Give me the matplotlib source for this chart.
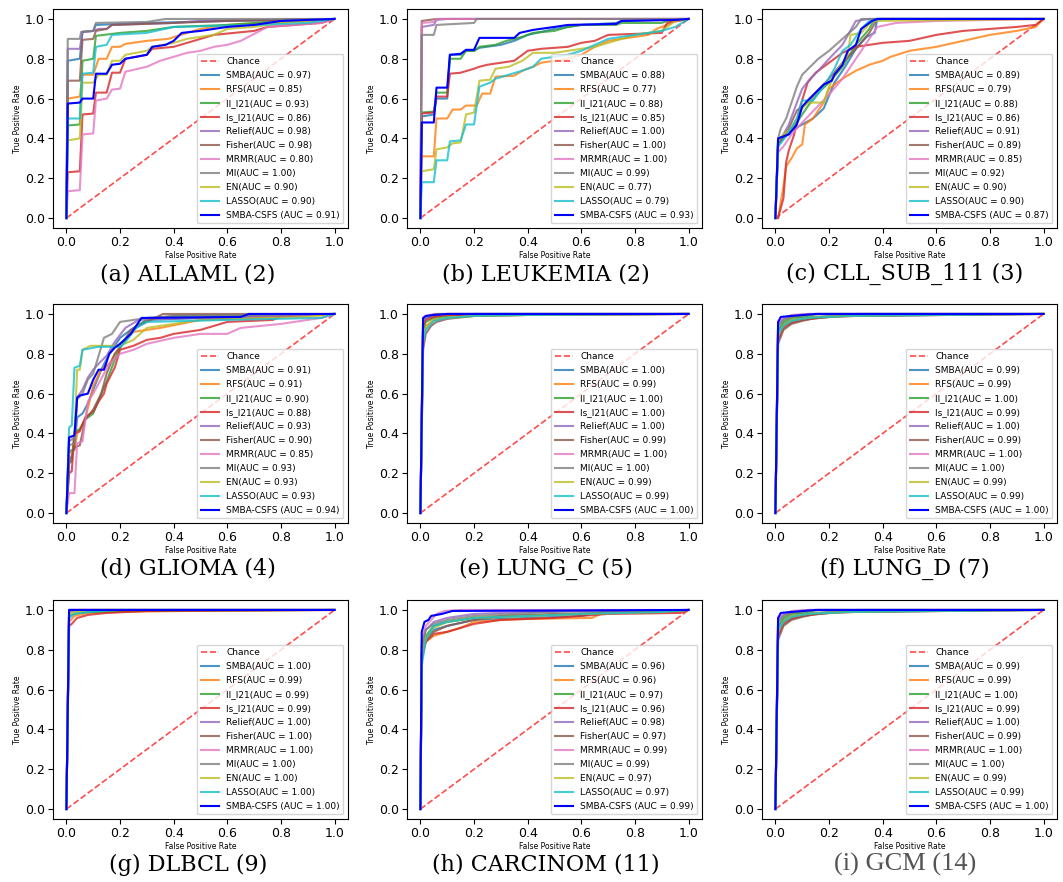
import matplotlib
matplotlib.use("Agg")
import matplotlib.pyplot as plt

# Méthodes comparées (ordre de la légende)
METHODS = ["SMBA", "RFS", "ll_l21", "ls_l21", "Relief", "Fisher",
           "MRMR", "MI", "EN", "LASSO", "SMBA-CSFS"]

# Points des courbes ROC : une liste de (fpr, tpr) par méthode
ALLAML_AUC = [0.97, 0.85, 0.93, 0.86, 0.98, 0.98, 0.80, 1.00, 0.90, 0.90, 0.91]
ALLAML_ROC = [
    [(0, 0), (0.005, 0.79), (0.05, 0.80), (0.06, 0.935), (0.1, 0.94), (0.11, 0.97), (0.3, 0.98), (0.6, 0.99), (1, 1)],
    [(0, 0), (0.005, 0.60), (0.05, 0.61), (0.06, 0.72), (0.1, 0.72), (0.12, 0.80), (0.15, 0.80), (0.17, 0.86),
     (0.2, 0.86), (0.22, 0.875), (0.3, 0.89), (0.38, 0.90), (0.45, 0.93), (0.5, 0.95), (0.6, 0.97), (0.75, 0.98),
     (0.9, 0.99), (1, 1)],
    [(0, 0), (0.005, 0.465), (0.05, 0.47), (0.06, 0.79), (0.1, 0.80), (0.11, 0.915), (0.2, 0.93), (0.3, 0.94),
     (0.4, 0.96), (0.6, 0.97), (0.8, 0.99), (1, 1)],
    [(0, 0), (0.005, 0.23), (0.05, 0.235), (0.06, 0.52), (0.1, 0.525), (0.11, 0.63), (0.15, 0.63), (0.17, 0.73),
     (0.2, 0.73), (0.22, 0.80), (0.3, 0.82), (0.32, 0.85), (0.4, 0.86), (0.45, 0.88), (0.5, 0.90), (0.55, 0.92),
     (0.7, 0.94), (0.75, 0.96), (0.85, 0.97), (0.95, 0.98), (1, 1)],
    [(0, 0), (0.005, 0.85), (0.05, 0.85), (0.06, 0.935), (0.1, 0.94), (0.12, 0.95), (0.15, 0.95), (0.17, 0.97),
     (0.4, 0.98), (0.5, 0.99), (1, 1)],
    [(0, 0), (0.005, 0.69), (0.05, 0.69), (0.06, 0.895), (0.1, 0.90), (0.11, 0.94), (0.15, 0.95), (0.17, 0.97),
     (0.4, 0.98), (0.6, 0.99), (1, 1)],
    [(0, 0), (0.005, 0.135), (0.05, 0.14), (0.06, 0.42), (0.1, 0.425), (0.11, 0.59), (0.15, 0.60), (0.17, 0.645),
     (0.2, 0.65), (0.22, 0.735), (0.3, 0.76), (0.35, 0.79), (0.4, 0.81), (0.45, 0.83), (0.5, 0.84), (0.55, 0.86),
     (0.6, 0.87), (0.65, 0.89), (0.75, 0.96), (0.85, 0.97), (0.95, 0.98), (1, 1)],
    [(0, 0), (0.005, 0.90), (0.05, 0.90), (0.055, 0.935), (0.1, 0.94), (0.11, 0.98), (0.3, 0.985), (0.37, 1.0), (1, 1)],
    [(0, 0), (0.005, 0.39), (0.05, 0.40), (0.06, 0.68), (0.1, 0.68), (0.12, 0.72), (0.15, 0.72), (0.17, 0.79),
     (0.2, 0.79), (0.22, 0.82), (0.3, 0.84), (0.32, 0.86), (0.4, 0.88), (0.45, 0.90), (0.55, 0.92), (0.6, 0.95),
     (0.7, 0.96), (0.8, 0.98), (0.9, 0.99), (1, 1)],
    [(0, 0), (0.005, 0.50), (0.05, 0.50), (0.06, 0.725), (0.1, 0.73), (0.11, 0.86), (0.15, 0.87), (0.17, 0.92),
     (0.3, 0.93), (0.4, 0.96), (0.7, 0.97), (0.9, 0.98), (1, 1)],
    [(0, 0), (0.005, 0.575), (0.05, 0.58), (0.06, 0.60), (0.1, 0.60), (0.11, 0.725), (0.15, 0.725), (0.17, 0.77),
     (0.2, 0.775), (0.22, 0.80), (0.3, 0.82), (0.32, 0.86), (0.37, 0.87), (0.4, 0.89), (0.43, 0.93), (0.5, 0.94),
     (0.6, 0.96), (0.7, 0.97), (0.75, 0.98), (0.8, 0.99), (1, 1)],
]

LEUKEMIA_AUC = [0.88, 0.77, 0.88, 0.85, 1.00, 1.00, 1.00, 0.99, 0.77, 0.79, 0.93]
LEUKEMIA_ROC = [
    [(0, 0), (0.005, 0.51), (0.05, 0.52), (0.06, 0.60), (0.1, 0.60), (0.11, 0.82), (0.15, 0.82), (0.17, 0.84),
     (0.2, 0.84), (0.22, 0.855), (0.3, 0.87), (0.35, 0.89), (0.4, 0.92), (0.5, 0.95), (0.6, 0.97), (0.73, 0.98),
     (0.75, 0.99), (1, 1)],
    [(0, 0), (0.005, 0.31), (0.05, 0.31), (0.06, 0.50), (0.1, 0.50), (0.12, 0.545), (0.15, 0.545), (0.17, 0.565),
     (0.21, 0.565), (0.23, 0.625), (0.26, 0.625), (0.28, 0.71), (0.35, 0.715), (0.38, 0.74), (0.42, 0.76),
     (0.45, 0.78), (0.55, 0.80), (0.6, 0.82), (0.65, 0.86), (0.7, 0.89), (0.8, 0.91), (0.85, 0.92), (0.88, 0.95),
     (0.92, 0.97), (0.95, 0.99), (1, 1)],
    [(0, 0), (0.005, 0.53), (0.05, 0.535), (0.06, 0.63), (0.1, 0.63), (0.11, 0.80), (0.15, 0.80), (0.17, 0.84),
     (0.2, 0.84), (0.22, 0.86), (0.28, 0.87), (0.32, 0.89), (0.38, 0.91), (0.42, 0.93), (0.5, 0.94), (0.55, 0.96),
     (0.6, 0.97), (0.73, 0.97), (0.75, 0.98), (0.9, 0.98), (0.92, 0.99), (1, 1)],
    [(0, 0), (0.005, 0.525), (0.05, 0.53), (0.06, 0.61), (0.1, 0.61), (0.11, 0.725), (0.15, 0.73), (0.2, 0.75),
     (0.22, 0.76), (0.25, 0.77), (0.3, 0.78), (0.35, 0.79), (0.4, 0.84), (0.45, 0.85), (0.55, 0.86), (0.6, 0.88),
     (0.65, 0.89), (0.7, 0.92), (0.9, 0.93), (0.92, 0.98), (1, 1)],
    [(0, 0), (0.005, 0.96), (0.05, 0.97), (0.06, 0.995), (0.1, 1.0), (1, 1)],
    [(0, 0), (0.005, 0.99), (0.06, 1.0), (1, 1)],
    [(0, 0), (0.005, 0.98), (0.05, 0.985), (0.06, 1.0), (1, 1)],
    [(0, 0), (0.005, 0.92), (0.05, 0.92), (0.06, 0.97), (0.2, 0.98), (0.21, 1.0), (1, 1)],
    [(0, 0), (0.005, 0.235), (0.05, 0.245), (0.06, 0.345), (0.1, 0.355), (0.12, 0.375), (0.15, 0.38), (0.17, 0.52),
     (0.2, 0.53), (0.22, 0.69), (0.26, 0.695), (0.28, 0.75), (0.33, 0.76), (0.38, 0.79), (0.42, 0.83), (0.5, 0.83),
     (0.55, 0.84), (0.65, 0.86), (0.7, 0.88), (0.8, 0.92), (0.9, 0.94), (0.95, 0.99), (1, 1)],
    [(0, 0), (0.005, 0.18), (0.05, 0.18), (0.06, 0.29), (0.1, 0.29), (0.11, 0.385), (0.15, 0.39), (0.17, 0.47),
     (0.2, 0.47), (0.22, 0.66), (0.26, 0.68), (0.28, 0.70), (0.33, 0.72), (0.38, 0.74), (0.42, 0.76), (0.45, 0.80),
     (0.55, 0.82), (0.6, 0.84), (0.7, 0.90), (0.75, 0.91), (0.85, 0.93), (0.9, 0.94), (0.95, 0.96), (1, 1)],
    [(0, 0), (0.005, 0.48), (0.05, 0.48), (0.06, 0.655), (0.1, 0.655), (0.11, 0.82), (0.15, 0.825), (0.17, 0.845),
     (0.2, 0.845), (0.22, 0.905), (0.35, 0.905), (0.37, 0.93), (0.42, 0.945), (0.5, 0.96), (0.55, 0.97),
     (0.73, 0.975), (0.75, 0.99), (0.95, 0.995), (1, 1)],
]

CLL_AUC = [0.89, 0.79, 0.88, 0.86, 0.91, 0.89, 0.85, 0.92, 0.90, 0.90, 0.87]
CLL_ROC = [
    [(0, 0), (0.01, 0.37), (0.03, 0.40), (0.06, 0.44), (0.1, 0.47), (0.14, 0.50), (0.18, 0.55), (0.22, 0.68),
     (0.26, 0.76), (0.3, 0.85), (0.34, 0.91), (0.37, 0.93), (0.38, 1.0), (1, 1)],
    [(0, 0), (0.01, 0.0), (0.03, 0.16), (0.04, 0.26), (0.06, 0.30), (0.08, 0.35), (0.1, 0.37), (0.11, 0.47),
     (0.14, 0.50), (0.18, 0.58), (0.2, 0.65), (0.25, 0.70), (0.3, 0.74), (0.35, 0.77), (0.4, 0.79), (0.43, 0.81),
     (0.5, 0.84), (0.6, 0.86), (0.7, 0.89), (0.8, 0.92), (0.9, 0.94), (0.97, 0.96), (1, 1)],
    [(0, 0), (0.01, 0.37), (0.04, 0.42), (0.08, 0.48), (0.12, 0.56), (0.16, 0.63), (0.2, 0.68), (0.25, 0.76),
     (0.3, 0.87), (0.35, 0.95), (0.37, 1.0), (1, 1)],
    [(0, 0), (0.01, 0.0), (0.03, 0.10), (0.04, 0.28), (0.05, 0.34), (0.07, 0.42), (0.09, 0.55), (0.12, 0.68),
     (0.15, 0.73), (0.2, 0.78), (0.25, 0.83), (0.3, 0.86), (0.35, 0.87), (0.4, 0.88), (0.5, 0.89), (0.6, 0.92),
     (0.7, 0.94), (0.8, 0.95), (0.9, 0.96), (0.97, 0.97), (1, 1)],
    [(0, 0), (0.01, 0.38), (0.03, 0.42), (0.05, 0.47), (0.08, 0.58), (0.1, 0.65), (0.13, 0.70), (0.16, 0.74),
     (0.2, 0.80), (0.25, 0.87), (0.3, 0.99), (0.35, 1.0), (1, 1)],
    [(0, 0), (0.01, 0.36), (0.02, 0.39), (0.05, 0.45), (0.08, 0.54), (0.12, 0.58), (0.15, 0.63), (0.2, 0.70),
     (0.25, 0.78), (0.3, 0.85), (0.35, 0.93), (0.38, 1.0), (1, 1)],
    [(0, 0), (0.01, 0.33), (0.03, 0.36), (0.06, 0.42), (0.1, 0.48), (0.15, 0.55), (0.2, 0.62), (0.25, 0.70),
     (0.3, 0.80), (0.35, 0.90), (0.38, 0.96), (0.45, 0.98), (0.6, 0.99), (1, 1)],
    [(0, 0), (0.01, 0.40), (0.02, 0.45), (0.04, 0.50), (0.06, 0.58), (0.08, 0.66), (0.1, 0.72), (0.13, 0.76),
     (0.16, 0.80), (0.2, 0.84), (0.25, 0.90), (0.3, 0.96), (0.32, 1.0), (1, 1)],
    [(0, 0), (0.01, 0.39), (0.03, 0.42), (0.06, 0.45), (0.1, 0.55), (0.12, 0.58), (0.18, 0.58), (0.2, 0.66),
     (0.23, 0.74), (0.27, 0.82), (0.28, 0.92), (0.32, 0.93), (0.36, 0.99), (1, 1)],
    [(0, 0), (0.01, 0.36), (0.04, 0.41), (0.08, 0.50), (0.1, 0.59), (0.14, 0.59), (0.18, 0.66), (0.22, 0.75),
     (0.25, 0.84), (0.28, 0.87), (0.32, 0.95), (0.35, 0.99), (0.4, 1.0), (1, 1)],
    [(0, 0), (0.01, 0.40), (0.03, 0.41), (0.05, 0.42), (0.08, 0.47), (0.1, 0.56), (0.12, 0.59), (0.15, 0.63),
     (0.18, 0.67), (0.21, 0.69), (0.22, 0.72), (0.25, 0.77), (0.27, 0.84), (0.3, 0.87), (0.32, 0.95), (0.36, 0.99),
     (0.38, 1.0), (1, 1)],
]

GLIOMA_AUC = [0.91, 0.91, 0.90, 0.88, 0.93, 0.90, 0.85, 0.93, 0.93, 0.93, 0.94]
GLIOMA_ROC = [
    [(0, 0), (0.01, 0.31), (0.03, 0.32), (0.04, 0.48), (0.06, 0.50), (0.08, 0.55), (0.1, 0.62), (0.13, 0.72),
     (0.16, 0.80), (0.2, 0.88), (0.25, 0.93), (0.3, 0.97), (0.5, 0.98), (0.8, 0.99), (1, 1)],
    [(0, 0), (0.01, 0.30), (0.03, 0.32), (0.04, 0.40), (0.07, 0.47), (0.1, 0.64), (0.13, 0.72), (0.16, 0.75),
     (0.2, 0.84), (0.25, 0.91), (0.35, 0.93), (0.5, 0.97), (0.7, 0.98), (1, 1)],
    [(0, 0), (0.01, 0.25), (0.02, 0.26), (0.03, 0.41), (0.05, 0.42), (0.07, 0.47), (0.1, 0.50), (0.13, 0.60),
     (0.15, 0.66), (0.18, 0.77), (0.2, 0.83), (0.25, 0.92), (0.3, 0.97), (0.4, 0.99), (1, 1)],
    [(0, 0), (0.01, 0.20), (0.02, 0.21), (0.03, 0.40), (0.05, 0.41), (0.07, 0.48), (0.1, 0.51), (0.12, 0.56),
     (0.14, 0.60), (0.15, 0.65), (0.18, 0.73), (0.2, 0.82), (0.25, 0.84), (0.3, 0.87), (0.35, 0.88), (0.4, 0.90),
     (0.5, 0.92), (0.6, 0.96), (0.77, 0.97), (0.8, 0.99), (1, 1)],
    [(0, 0), (0.01, 0.36), (0.03, 0.38), (0.04, 0.58), (0.06, 0.62), (0.08, 0.68), (0.1, 0.72), (0.12, 0.75),
     (0.15, 0.79), (0.18, 0.86), (0.22, 0.93), (0.27, 0.97), (0.5, 0.98), (0.8, 0.99), (1, 1)],
    [(0, 0), (0.01, 0.25), (0.03, 0.33), (0.05, 0.34), (0.07, 0.47), (0.1, 0.52), (0.13, 0.60), (0.15, 0.70),
     (0.18, 0.80), (0.2, 0.83), (0.24, 0.92), (0.3, 0.96), (0.36, 1.0), (1, 1)],
    [(0, 0), (0.01, 0.10), (0.03, 0.10), (0.04, 0.35), (0.06, 0.36), (0.08, 0.56), (0.1, 0.60), (0.14, 0.70),
     (0.16, 0.75), (0.2, 0.80), (0.25, 0.82), (0.3, 0.85), (0.4, 0.88), (0.5, 0.90), (0.6, 0.90), (0.65, 0.93),
     (0.8, 0.95), (0.95, 0.98), (1, 1)],
    [(0, 0), (0.01, 0.34), (0.03, 0.35), (0.04, 0.57), (0.06, 0.60), (0.08, 0.67), (0.1, 0.70), (0.14, 0.88),
     (0.17, 0.90), (0.2, 0.96), (0.25, 0.97), (0.3, 0.98), (0.4, 0.99), (1, 1)],
    [(0, 0), (0.01, 0.38), (0.03, 0.39), (0.04, 0.72), (0.05, 0.72), (0.06, 0.82), (0.09, 0.84), (0.2, 0.84),
     (0.25, 0.87), (0.3, 0.93), (0.4, 0.95), (0.5, 0.97), (0.9, 0.985), (1, 1)],
    [(0, 0), (0.01, 0.43), (0.02, 0.44), (0.03, 0.73), (0.05, 0.74), (0.06, 0.82), (0.1, 0.83), (0.12, 0.835),
     (0.2, 0.835), (0.22, 0.86), (0.26, 0.93), (0.3, 0.96), (0.6, 0.97), (0.95, 0.98), (1, 1)],
    [(0, 0), (0.01, 0.38), (0.03, 0.39), (0.04, 0.58), (0.05, 0.59), (0.08, 0.60), (0.1, 0.67), (0.12, 0.72),
     (0.14, 0.72), (0.16, 0.80), (0.18, 0.83), (0.2, 0.85), (0.24, 0.90), (0.28, 0.98), (0.65, 0.985),
     (0.68, 1.0), (1, 1)],
]

LUNG_C_AUC = [1.00, 0.99, 1.00, 1.00, 1.00, 0.99, 1.00, 1.00, 0.99, 0.99, 1.00]
LUNG_C_ROC = [
    [(0, 0), (0.01, 0.95), (0.02, 0.98), (0.05, 0.99), (0.1, 1.0), (1, 1)],
    [(0, 0), (0.01, 0.88), (0.02, 0.94), (0.05, 0.97), (0.1, 0.98), (0.2, 0.99), (0.4, 0.995), (1, 1)],
    [(0, 0), (0.01, 0.92), (0.02, 0.96), (0.05, 0.98), (0.1, 0.99), (0.2, 1.0), (1, 1)],
    [(0, 0), (0.01, 0.94), (0.02, 0.97), (0.05, 0.985), (0.1, 0.995), (1, 1)],
    [(0, 0), (0.01, 0.96), (0.02, 0.985), (0.05, 0.995), (0.1, 1.0), (1, 1)],
    [(0, 0), (0.01, 0.82), (0.02, 0.90), (0.04, 0.94), (0.06, 0.96), (0.1, 0.975), (0.2, 0.99), (0.4, 0.995), (1, 1)],
    [(0, 0), (0.01, 0.97), (0.02, 0.99), (0.05, 1.0), (1, 1)],
    [(0, 0), (0.01, 0.97), (0.02, 0.985), (0.06, 1.0), (1, 1)],
    [(0, 0), (0.01, 0.87), (0.02, 0.93), (0.05, 0.97), (0.1, 0.98), (0.2, 0.99), (0.4, 0.995), (1, 1)],
    [(0, 0), (0.01, 0.86), (0.02, 0.92), (0.05, 0.965), (0.1, 0.98), (0.2, 0.99), (0.4, 0.995), (1, 1)],
    [(0, 0), (0.01, 0.98), (0.02, 0.99), (0.05, 0.995), (0.1, 1.0), (1, 1)],
]

LUNG_D_AUC = [0.99, 0.99, 1.00, 0.99, 1.00, 0.99, 1.00, 1.00, 0.99, 0.99, 1.00]
LUNG_D_ROC = [
    [(0, 0), (0.01, 0.90), (0.03, 0.95), (0.06, 0.97), (0.1, 0.98), (0.2, 0.99), (0.3, 1.0), (1, 1)],
    [(0, 0), (0.01, 0.88), (0.03, 0.94), (0.06, 0.96), (0.12, 0.975), (0.25, 0.99), (0.48, 0.995), (1, 1)],
    [(0, 0), (0.01, 0.92), (0.03, 0.96), (0.06, 0.98), (0.12, 0.99), (0.16, 1.0), (1, 1)],
    [(0, 0), (0.01, 0.87), (0.03, 0.93), (0.06, 0.955), (0.1, 0.97), (0.2, 0.985), (0.3, 0.99), (1, 1)],
    [(0, 0), (0.01, 0.95), (0.03, 0.975), (0.06, 0.99), (0.12, 1.0), (1, 1)],
    [(0, 0), (0.01, 0.85), (0.03, 0.92), (0.06, 0.95), (0.1, 0.965), (0.15, 0.98), (0.25, 0.99), (1, 1)],
    [(0, 0), (0.01, 0.96), (0.03, 0.98), (0.06, 0.995), (0.12, 1.0), (1, 1)],
    [(0, 0), (0.01, 0.94), (0.03, 0.97), (0.06, 0.985), (0.15, 1.0), (1, 1)],
    [(0, 0), (0.01, 0.89), (0.03, 0.945), (0.06, 0.97), (0.15, 0.985), (0.3, 0.99), (0.48, 0.995), (1, 1)],
    [(0, 0), (0.01, 0.90), (0.03, 0.94), (0.06, 0.965), (0.12, 0.98), (0.28, 0.99), (1, 1)],
    [(0, 0), (0.01, 0.96), (0.02, 0.985), (0.06, 0.99), (0.15, 1.0), (1, 1)],
]

DLBCL_AUC = [1.00, 0.99, 0.99, 0.99, 1.00, 1.00, 1.00, 1.00, 1.00, 1.00, 1.00]
DLBCL_ROC = [
    [(0, 0), (0.01, 1.0), (1, 1)],
    [(0, 0), (0.01, 0.94), (0.03, 0.97), (0.08, 0.985), (0.2, 0.99), (0.45, 0.995), (1, 1)],
    [(0, 0), (0.01, 0.97), (0.04, 0.985), (0.1, 0.99), (0.3, 0.995), (1, 1)],
    [(0, 0), (0.01, 0.92), (0.02, 0.93), (0.04, 0.96), (0.08, 0.975), (0.15, 0.985), (0.3, 0.995), (1, 1)],
    [(0, 0), (0.01, 1.0), (1, 1)],
    [(0, 0), (0.01, 1.0), (1, 1)],
    [(0, 0), (0.01, 1.0), (1, 1)],
    [(0, 0), (0.01, 0.99), (0.05, 1.0), (1, 1)],
    [(0, 0), (0.01, 0.98), (0.04, 0.99), (0.1, 1.0), (1, 1)],
    [(0, 0), (0.01, 0.96), (0.03, 0.98), (0.08, 0.99), (0.2, 1.0), (1, 1)],
    [(0, 0), (0.01, 1.0), (1, 1)],
]

CARCINOM_AUC = [0.96, 0.96, 0.97, 0.96, 0.98, 0.97, 0.99, 0.99, 0.97, 0.97, 0.99]
CARCINOM_ROC = [
    [(0, 0), (0.005, 0.78), (0.02, 0.86), (0.05, 0.90), (0.1, 0.92), (0.2, 0.95), (0.4, 0.96), (0.6, 0.97),
     (0.68, 0.99), (1, 1)],
    [(0, 0), (0.005, 0.75), (0.02, 0.84), (0.05, 0.87), (0.1, 0.89), (0.15, 0.91), (0.2, 0.94), (0.3, 0.95),
     (0.4, 0.955), (0.64, 0.96), (0.68, 0.985), (1, 1)],
    [(0, 0), (0.005, 0.78), (0.02, 0.87), (0.05, 0.92), (0.1, 0.94), (0.2, 0.96), (0.35, 0.97), (0.6, 0.98),
     (0.9, 0.99), (1, 1)],
    [(0, 0), (0.005, 0.76), (0.02, 0.84), (0.05, 0.88), (0.1, 0.89), (0.2, 0.93), (0.3, 0.95), (0.5, 0.96),
     (0.7, 0.98), (0.97, 0.985), (1, 1)],
    [(0, 0), (0.005, 0.82), (0.02, 0.90), (0.05, 0.94), (0.1, 0.96), (0.2, 0.98), (0.4, 0.99), (1, 1)],
    [(0, 0), (0.005, 0.78), (0.02, 0.85), (0.05, 0.89), (0.1, 0.92), (0.2, 0.95), (0.3, 0.97), (0.5, 0.98),
     (0.9, 0.99), (1, 1)],
    [(0, 0), (0.005, 0.85), (0.02, 0.92), (0.04, 0.95), (0.06, 0.98), (0.09, 0.995), (0.15, 1.0), (1, 1)],
    [(0, 0), (0.005, 0.82), (0.02, 0.90), (0.05, 0.93), (0.1, 0.95), (0.2, 0.97), (0.35, 0.98), (0.55, 0.995),
     (1, 1)],
    [(0, 0), (0.005, 0.77), (0.02, 0.86), (0.05, 0.91), (0.1, 0.94), (0.2, 0.96), (0.4, 0.97), (0.6, 0.98),
     (0.9, 0.99), (1, 1)],
    [(0, 0), (0.005, 0.72), (0.02, 0.85), (0.05, 0.92), (0.1, 0.94), (0.2, 0.96), (0.4, 0.97), (0.6, 0.98),
     (0.9, 0.99), (1, 1)],
    [(0, 0), (0.005, 0.89), (0.015, 0.94), (0.03, 0.95), (0.04, 0.97), (0.08, 0.98), (0.12, 0.995), (1, 1)],
]

GCM_AUC = [0.99, 0.99, 1.00, 0.99, 1.00, 0.99, 1.00, 1.00, 0.99, 0.99, 1.00]
GCM_ROC = [
    [(0, 0), (0.01, 0.90), (0.03, 0.95), (0.06, 0.97), (0.1, 0.98), (0.2, 0.99), (0.3, 1.0), (1, 1)],
    [(0, 0), (0.01, 0.88), (0.03, 0.94), (0.06, 0.96), (0.12, 0.975), (0.25, 0.99), (0.48, 0.995), (1, 1)],
    [(0, 0), (0.01, 0.92), (0.03, 0.96), (0.06, 0.98), (0.12, 0.99), (0.16, 1.0), (1, 1)],
    [(0, 0), (0.01, 0.87), (0.03, 0.93), (0.06, 0.955), (0.1, 0.97), (0.2, 0.985), (0.3, 0.99), (1, 1)],
    [(0, 0), (0.01, 0.95), (0.03, 0.975), (0.06, 0.99), (0.12, 1.0), (1, 1)],
    [(0, 0), (0.01, 0.85), (0.03, 0.92), (0.06, 0.95), (0.1, 0.965), (0.15, 0.98), (0.25, 0.99), (1, 1)],
    [(0, 0), (0.01, 0.96), (0.03, 0.98), (0.06, 0.995), (0.12, 1.0), (1, 1)],
    [(0, 0), (0.01, 0.94), (0.03, 0.97), (0.06, 0.985), (0.15, 1.0), (1, 1)],
    [(0, 0), (0.01, 0.89), (0.03, 0.945), (0.06, 0.97), (0.15, 0.985), (0.3, 0.99), (0.48, 0.995), (1, 1)],
    [(0, 0), (0.01, 0.90), (0.03, 0.94), (0.06, 0.965), (0.12, 0.98), (0.28, 0.99), (1, 1)],
    [(0, 0), (0.01, 0.96), (0.02, 0.985), (0.06, 0.99), (0.15, 1.0), (1, 1)],
]

PANELS = [
    ("(a) ALLAML (2)", ALLAML_ROC, ALLAML_AUC),
    ("(b) LEUKEMIA (2)", LEUKEMIA_ROC, LEUKEMIA_AUC),
    ("(c) CLL_SUB_111 (3)", CLL_ROC, CLL_AUC),
    ("(d) GLIOMA (4)", GLIOMA_ROC, GLIOMA_AUC),
    ("(e) LUNG_C (5)", LUNG_C_ROC, LUNG_C_AUC),
    ("(f) LUNG_D (7)", LUNG_D_ROC, LUNG_D_AUC),
    ("(g) DLBCL (9)", DLBCL_ROC, DLBCL_AUC),
    ("(h) CARCINOM (11)", CARCINOM_ROC, CARCINOM_AUC),
    ("(i) GCM (14)", GCM_ROC, GCM_AUC),
]

COLORS = ["#1f77b4", "#ff7f0e", "#2ca02c", "#d62728", "#9467bd", "#8c564b",
          "#e377c2", "#7f7f7f", "#bcbd22", "#17becf", "blue"]

# Mise en page (pixels de l'image 1063x882)
W, H = 1063, 882
COL_LEFT = [53, 407, 762]
ROW_TOP = [9, 304, 600]
AX_W, AX_H = 295, 219
CAPTION_X = [188, 546, 905]
CAPTION_BASE = [280, 575, 871]


def plot_roc(ax, roc, auc):
    ax.plot([0, 1], [0, 1], linestyle="--", color="red", lw=1.2, alpha=0.7, label="Chance")
    for i, (name, pts) in enumerate(zip(METHODS, roc)):
        fpr = [p[0] for p in pts]
        tpr = [p[1] for p in pts]
        sep = " " if name == "SMBA-CSFS" else ""
        label = f"{name}{sep}(AUC = {auc[i]:.2f})"
        if name == "SMBA-CSFS":
            ax.plot(fpr, tpr, color=COLORS[i], lw=1.5, label=label)
        else:
            ax.plot(fpr, tpr, color=COLORS[i], lw=1.5, alpha=0.8, label=label)
    ax.set_xlabel("False Positive Rate", fontsize=5.5, labelpad=1)
    ax.set_ylabel("True Positive Rate", fontsize=5.5, labelpad=2)
    ax.tick_params(labelsize=9, pad=2.5)
    ax.legend(loc="lower right", fontsize=6.5, labelspacing=0.55)


if __name__ == "__main__":
    fig = plt.figure(figsize=(W / 100, H / 100), dpi=100)
    for k, (caption, roc, auc) in enumerate(PANELS):
        r, c = divmod(k, 3)
        ax = fig.add_axes([COL_LEFT[c] / W, 1 - (ROW_TOP[r] + AX_H) / H, AX_W / W, AX_H / H])
        plot_roc(ax, roc, auc)
        if k == 8:
            fig.text(CAPTION_X[c] / W, 1 - CAPTION_BASE[r] / H, caption, ha="center", va="baseline",
                     family="Liberation Serif", fontsize=19, color="#555555")
        else:
            fig.text(CAPTION_X[c] / W, 1 - CAPTION_BASE[r] / H, caption, ha="center", va="baseline",
                     family="DejaVu Serif", fontsize=16)
    fig.savefig("out.png", dpi=100)
